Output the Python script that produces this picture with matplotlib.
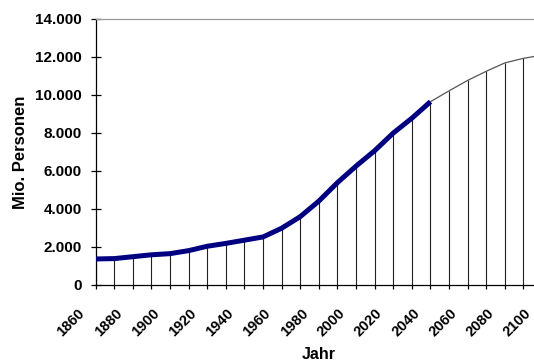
import numpy as np
import matplotlib
matplotlib.use("Agg")
import matplotlib.pyplot as plt
from matplotlib.ticker import FuncFormatter
from matplotlib.transforms import ScaledTranslation

plt.rcParams["font.family"] = ["Liberation Sans", "DejaVu Sans"]
plt.rcParams["font.weight"] = "bold"

# Weltbevoelkerung in Mio. Personen: Verlauf bis 2040, danach Projektion
jahre_hist = [1860, 1870, 1880, 1890, 1900, 1910, 1920, 1930, 1940, 1950,
              1960, 1970, 1980, 1990, 2000, 2010, 2020, 2030, 2040]
werte_hist = [1370, 1390, 1490, 1590, 1650, 1810, 2040, 2190, 2360, 2530,
              2990, 3600, 4420, 5390, 6260, 7070, 8000, 8780, 9650]
jahre_proj = [2040, 2050, 2060, 2070, 2080, 2090, 2100]
werte_proj = [9650, 10220, 10770, 11250, 11690, 11930, 12100]

x_ticks = list(range(1860, 2101, 10))
x_labels = list(range(1860, 2101, 20))
y_ticks = list(range(0, 14001, 2000))

W, H, DPI = 534, 362, 100
fig = plt.figure(figsize=(W / DPI, H / DPI), dpi=DPI)
# Zeichenflaeche reicht rechts ueber den Bildrand hinaus (2100 liegt ausserhalb)
ax = fig.add_axes([95.7 / W, 77 / H, 446.4 / W, 266 / H])

# Lotlinien von jeder Dekade zur x-Achse
jahre_alle = jahre_hist + jahre_proj[1:]
werte_alle = werte_hist + werte_proj[1:]
ax.vlines(jahre_alle, 0, werte_alle, color="#222222", lw=0.8, zorder=2)

ax.plot(jahre_proj, werte_proj, color="#555555", lw=0.9, zorder=3)
ax.plot(jahre_hist, werte_hist, color="#000080", lw=3.6,
        solid_capstyle="butt", solid_joinstyle="round", zorder=4)

ax.set_xlim(1860, 2100)
ax.set_ylim(0, 14000)

for s in ("left", "bottom"):
    ax.spines[s].set_color("black")
    ax.spines[s].set_linewidth(0.9)
ax.spines["top"].set_color("#9a9a9a")
ax.spines["top"].set_linewidth(0.9)
ax.spines["right"].set_visible(False)

ax.set_yticks(y_ticks)
ax.yaxis.set_major_formatter(FuncFormatter(lambda v, p: f"{int(v):,}".replace(",", ".")))
ax.tick_params(axis="y", direction="inout", length=6.5, width=0.9,
               pad=6.8, labelsize=11)
ax.set_xticks(x_ticks)
ax.tick_params(axis="x", direction="out", length=3, width=0.9,
               labelbottom=False)

# Jahreszahlen schraeg unter der Achse
versatz = ScaledTranslation(-18 / DPI, -21 / DPI, fig.dpi_scale_trans)
for j in x_labels:
    ax.text(j, 0, str(j), transform=ax.get_xaxis_transform() + versatz,
            rotation=45, rotation_mode="anchor", ha="right", va="top",
            fontsize=10.5, fontweight="bold", clip_on=False)

ax.set_xlabel("Jahr", fontsize=11.5, fontweight="bold")
ax.xaxis.set_label_coords(0.5, (285 - 347) / 266)
ax.set_ylabel("Mio. Personen", fontsize=12, fontweight="bold", va="center")
ax.yaxis.set_label_coords((21 - 95.7) / 446.4, 0.5)

fig.savefig("out.png", dpi=DPI)
